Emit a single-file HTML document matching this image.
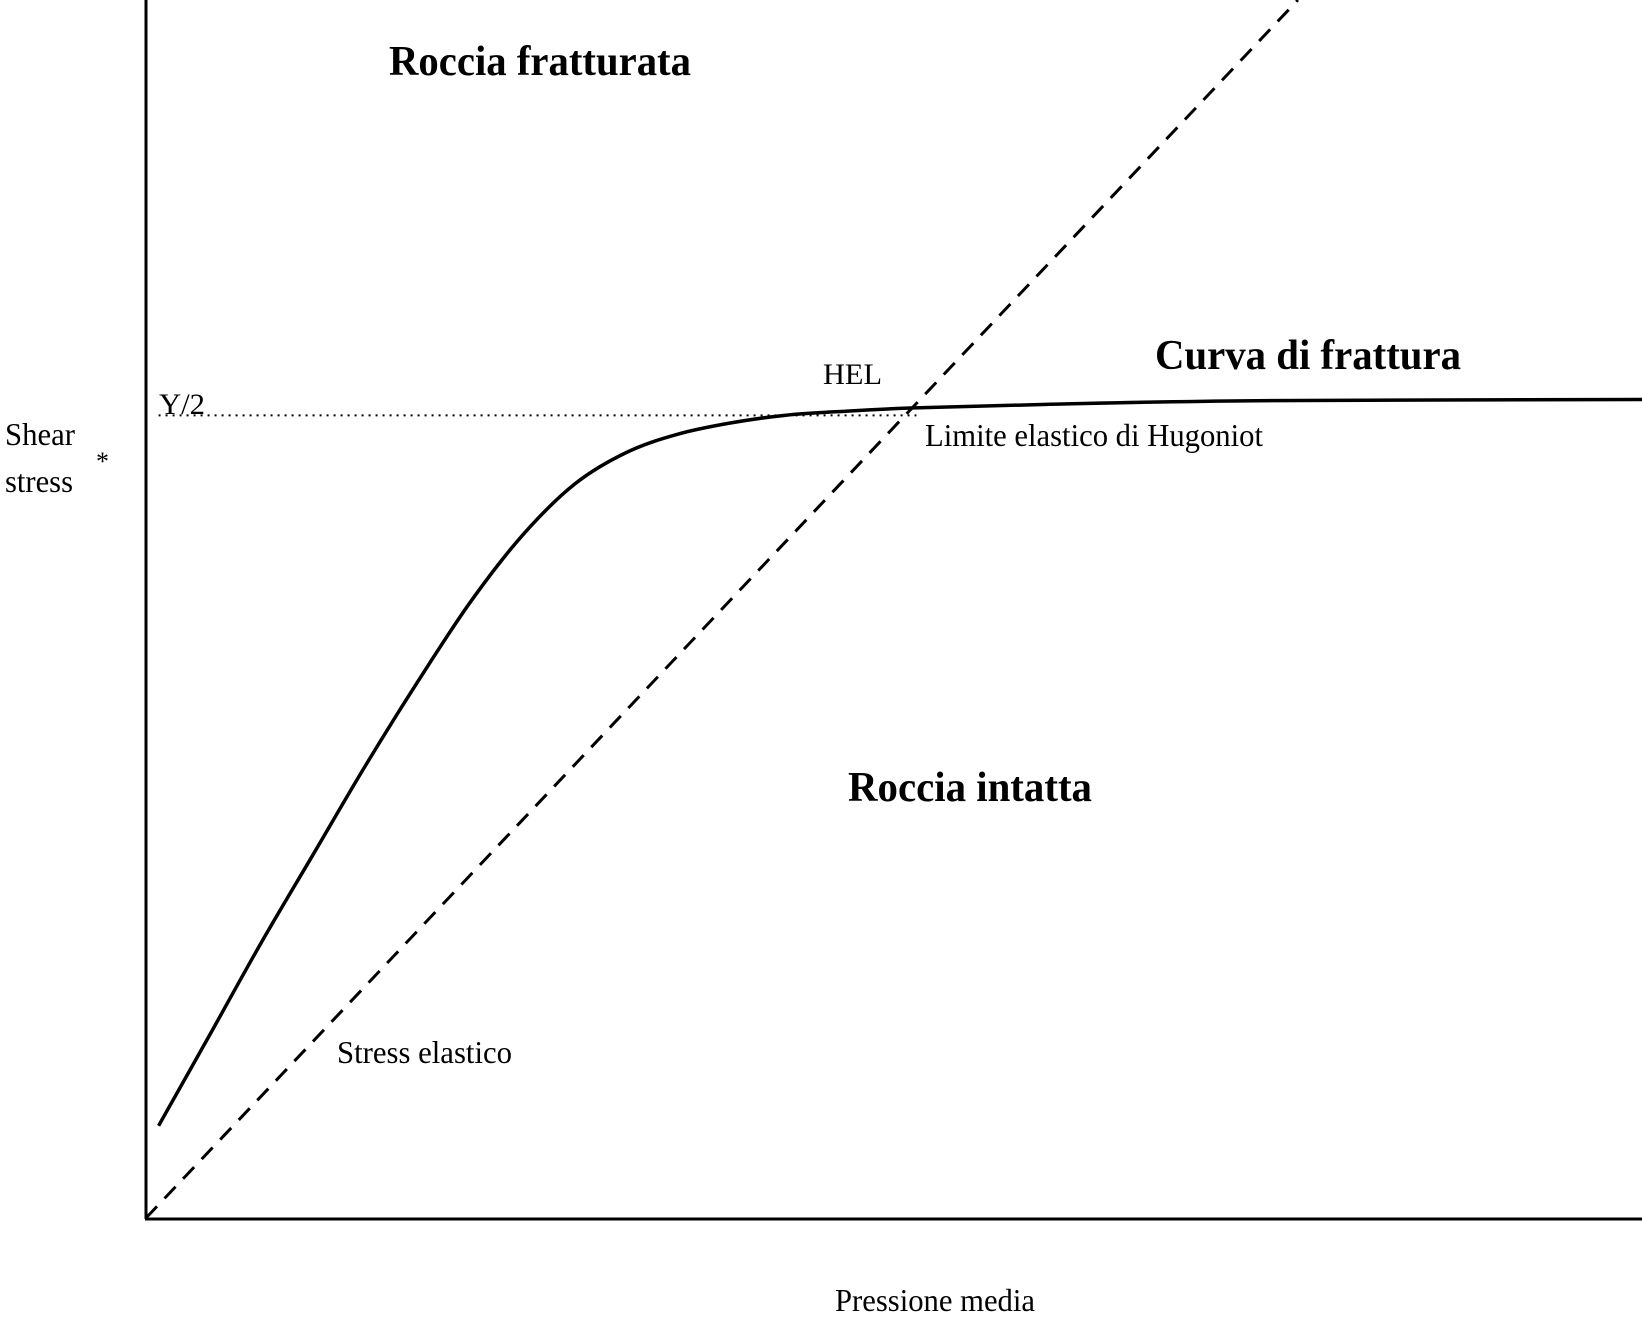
<!DOCTYPE html>
<html><head><meta charset="utf-8"><style>html,body{margin:0;padding:0;background:#fff}svg{display:block}text{font-family:"Liberation Serif",serif;fill:#000}</style></head>
<body>
<svg id="chart" width="1642" height="1322" viewBox="0 0 1642 1322" xmlns="http://www.w3.org/2000/svg">
<line x1="146" y1="0" x2="146" y2="1219" stroke="#000" stroke-width="3"/>
<line x1="145" y1="1219" x2="1642" y2="1219" stroke="#000" stroke-width="3"/>
<g id="marks"></g>
<text x="389" y="75" font-size="42" font-weight="bold" textLength="302" lengthAdjust="spacingAndGlyphs">Roccia fratturata</text>
<text x="1155" y="369" font-size="42" font-weight="bold" textLength="306" lengthAdjust="spacingAndGlyphs">Curva di frattura</text>
<text x="848" y="801" font-size="42" font-weight="bold" textLength="244" lengthAdjust="spacingAndGlyphs">Roccia intatta</text>
<text x="823" y="384" font-size="30" textLength="59" lengthAdjust="spacingAndGlyphs">HEL</text>
<text x="925" y="446" font-size="32" textLength="338" lengthAdjust="spacingAndGlyphs">Limite elastico di Hugoniot</text>
<text x="337" y="1063" font-size="32" textLength="175" lengthAdjust="spacingAndGlyphs">Stress elastico</text>
<text x="835" y="1311" font-size="32" textLength="200" lengthAdjust="spacingAndGlyphs">Pressione media</text>
<text x="5" y="445" font-size="32" textLength="70" lengthAdjust="spacingAndGlyphs">Shear</text>
<text x="5" y="492" font-size="32" textLength="68" lengthAdjust="spacingAndGlyphs">stress</text>
<text x="96" y="470" font-size="26">*</text>
<text x="159" y="414" font-size="30" textLength="46" lengthAdjust="spacingAndGlyphs">Y/2</text>
</svg>
<script>
const pressure = [0.84,4.2,7.7,11.2,14.7,18.2,21.7,25.2,28.7,32.2,35.7,39.2,42.7,46.2,51.1,60.2,74.2,100];
const stress = [7.57,14.9,22.6,29.9,37.2,44.1,50.6,56.1,60.3,62.9,64.4,65.3,65.9,66.2,66.5,66.8,67.1,67.2];
const elasticP = [0,77.0];
const elasticS = [0,100];
const yHalf = 65.9;
const yHalfRange = [0.84,51.5];
function X(p){return 146+p/100*1496;}
function Y(s){return 1218-s/100*1218;}
const g=document.getElementById('marks');
const NS='http://www.w3.org/2000/svg';
// smooth curve via Catmull-Rom
let pts=pressure.map((p,i)=>[X(p),Y(stress[i])]);
let d='M'+pts[0][0]+','+pts[0][1];
for(let i=0;i<pts.length-1;i++){
  const p0=pts[Math.max(0,i-1)],p1=pts[i],p2=pts[i+1],p3=pts[Math.min(pts.length-1,i+2)];
  d+=' C'+(p1[0]+(p2[0]-p0[0])/6)+','+(p1[1]+(p2[1]-p0[1])/6)+' '+(p2[0]-(p3[0]-p1[0])/6)+','+(p2[1]-(p3[1]-p1[1])/6)+' '+p2[0]+','+p2[1];
}
const c=document.createElementNS(NS,'path');
c.setAttribute('d',d);c.setAttribute('fill','none');c.setAttribute('stroke','#000');c.setAttribute('stroke-width','3.5');


g.appendChild(c);
const e=document.createElementNS(NS,'line');
e.setAttribute('x1',X(elasticP[0]));e.setAttribute('y1',Y(elasticS[0]));e.setAttribute('x2',X(elasticP[1]));e.setAttribute('y2',Y(elasticS[1]));
e.setAttribute('stroke','#000');e.setAttribute('stroke-width','3');e.setAttribute('stroke-dasharray','16 11');


g.appendChild(e);
const h=document.createElementNS(NS,'line');
h.setAttribute('x1',X(yHalfRange[0]));h.setAttribute('y1',Y(yHalf));h.setAttribute('x2',X(yHalfRange[1]));h.setAttribute('y2',Y(yHalf));
h.setAttribute('stroke','#000');h.setAttribute('stroke-width','2');h.setAttribute('stroke-dasharray','2 5');


g.appendChild(h);
</script>
</body></html>
